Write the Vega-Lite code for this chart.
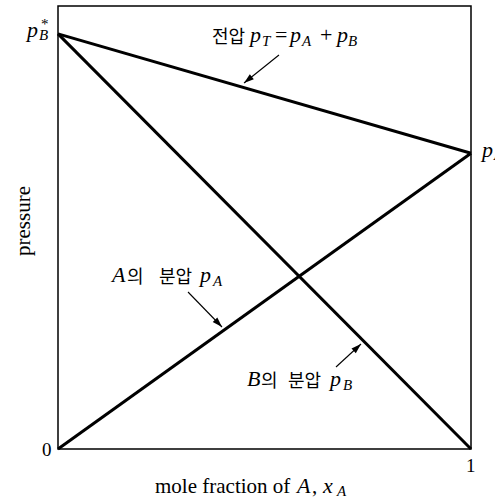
{
  "$schema": "https://vega.github.io/schema/vega-lite/v6.json",
  "width": 413,
  "height": 443,
  "autosize": {"type": "none"},
  "padding": {"left": 58, "top": 6, "right": 24, "bottom": 50},
  "background": "white",
  "config": {"view": {"stroke": "black", "strokeWidth": 1.5}, "text": {"font": "'Liberation Serif', 'Times New Roman', serif"}},
  "datasets": {
    "lines": [
      {"s": "total", "x": 0, "y": 0.937}, {"s": "total", "x": 1, "y": 0.6675},
      {"s": "pB", "x": 0, "y": 0.937}, {"s": "pB", "x": 1, "y": 0},
      {"s": "pA", "x": 0, "y": 0}, {"s": "pA", "x": 1, "y": 0.6675}
    ],
    "arrows": [
      {"id": "T", "x": 0.5351, "y": 0.8894, "x2": 0.4504, "y2": 0.8262},
      {"id": "A", "x": 0.3148, "y": 0.3544, "x2": 0.3971, "y2": 0.2754},
      {"id": "B", "x": 0.6731, "y": 0.1851, "x2": 0.7337, "y2": 0.2370}
    ],
    "mi": [
      {"x": 0.4649, "y": 0.9187, "t": "p"},
      {"x": 0.5617, "y": 0.9187, "t": "p"},
      {"x": 0.6755, "y": 0.9187, "t": "p"},
      {"x": 0.1308, "y": 0.3770, "t": "A"},
      {"x": 0.3438, "y": 0.3770, "t": "p"},
      {"x": 0.4576, "y": 0.1422, "t": "B"},
      {"x": 0.6586, "y": 0.1422, "t": "p"},
      {"x": -0.0751, "y": 0.930, "t": "p"},
      {"x": 1.0266, "y": 0.6591, "t": "p"},
      {"x": 0.5787, "y": -0.0993, "t": "A"},
      {"x": 0.6416, "y": -0.0993, "t": "x"}
    ],
    "sub": [
      {"x": 0.4939, "y": 0.9097, "t": "T"},
      {"x": 0.5908, "y": 0.9097, "t": "A"},
      {"x": 0.7022, "y": 0.9097, "t": "B"},
      {"x": 0.3753, "y": 0.3679, "t": "A"},
      {"x": 0.6901, "y": 0.1332, "t": "B"},
      {"x": -0.046, "y": 0.9233, "t": "B"},
      {"x": 1.0557, "y": 0.6524, "t": "A"},
      {"x": 0.6755, "y": -0.1061, "t": "A"}
    ],
    "sup": [
      {"x": -0.0412, "y": 0.948, "t": "*"},
      {"x": 1.058, "y": 0.678, "t": "*"}
    ],
    "rom": [
      {"x": 0.5254, "y": 0.9187, "t": "="},
      {"x": 0.6344, "y": 0.9187, "t": "+"}
    ],
    "kor": [
      {"x": 0.3729, "y": 0.9165, "t": "전압"},
      {"x": 0.1671, "y": 0.3747, "t": "의"},
      {"x": 0.2446, "y": 0.3747, "t": "분압"},
      {"x": 0.4915, "y": 0.1400, "t": "의"},
      {"x": 0.5569, "y": 0.1400, "t": "분압"}
    ],
    "tick": [
      {"x": -0.0387, "y": -0.0158, "t": "0"},
      {"x": 0.9879, "y": -0.0519, "t": "1"}
    ],
    "title": [
      {"x": 0.2349, "y": -0.0993, "t": "mole fraction of"},
      {"x": 0.615, "y": -0.0993, "t": ","}
    ],
    "ytitle": [
      {"x": -0.0678, "y": 0.5147, "t": "pressure"}
    ]
  },
  "encoding": {
    "x": {"field": "x", "type": "quantitative", "scale": {"domain": [0, 1], "nice": false, "zero": false}, "axis": null},
    "y": {"field": "y", "type": "quantitative", "scale": {"domain": [0, 1], "nice": false, "zero": false}, "axis": null}
  },
  "layer": [
    {
      "data": {"name": "lines"},
      "mark": {"type": "line", "color": "black", "strokeWidth": 3, "strokeCap": "butt"},
      "encoding": {"detail": {"field": "s"}}
    },
    {
      "data": {"name": "arrows"},
      "mark": {"type": "rule", "color": "black", "strokeWidth": 1.1},
      "encoding": {"x2": {"field": "x2"}, "y2": {"field": "y2"}}
    },
    {
      "data": {"name": "arrows"},
      "transform": [{"filter": "datum.id === 'T'"}],
      "mark": {"type": "point", "shape": "M0,0L-0.32,1L0.32,1Z", "filled": true, "color": "black", "opacity": 1, "size": 400, "angle": 231.3},
      "encoding": {"x": {"field": "x2", "type": "quantitative"}, "y": {"field": "y2", "type": "quantitative"}}
    },
    {
      "data": {"name": "arrows"},
      "transform": [{"filter": "datum.id === 'A'"}],
      "mark": {"type": "point", "shape": "M0,0L-0.32,1L0.32,1Z", "filled": true, "color": "black", "opacity": 1, "size": 400, "angle": 135.8},
      "encoding": {"x": {"field": "x2", "type": "quantitative"}, "y": {"field": "y2", "type": "quantitative"}}
    },
    {
      "data": {"name": "arrows"},
      "transform": [{"filter": "datum.id === 'B'"}],
      "mark": {"type": "point", "shape": "M0,0L-0.32,1L0.32,1Z", "filled": true, "color": "black", "opacity": 1, "size": 400, "angle": 47.4},
      "encoding": {"x": {"field": "x2", "type": "quantitative"}, "y": {"field": "y2", "type": "quantitative"}}
    },
    {
      "data": {"name": "mi"},
      "mark": {"type": "text", "fontStyle": "italic", "fontSize": 22, "align": "left", "baseline": "alphabetic", "color": "black"},
      "encoding": {"text": {"field": "t"}}
    },
    {
      "data": {"name": "sub"},
      "mark": {"type": "text", "fontStyle": "italic", "fontSize": 15, "align": "left", "baseline": "alphabetic", "color": "black"},
      "encoding": {"text": {"field": "t"}}
    },
    {
      "data": {"name": "sup"},
      "mark": {"type": "text", "fontSize": 15, "align": "left", "baseline": "alphabetic", "color": "black"},
      "encoding": {"text": {"field": "t"}}
    },
    {
      "data": {"name": "rom"},
      "mark": {"type": "text", "fontSize": 22, "align": "left", "baseline": "alphabetic", "color": "black"},
      "encoding": {"text": {"field": "t"}}
    },
    {
      "data": {"name": "kor"},
      "mark": {"type": "text", "font": "Noto Sans CJK KR", "fontSize": 18, "align": "left", "baseline": "alphabetic", "color": "black"},
      "encoding": {"text": {"field": "t"}}
    },
    {
      "data": {"name": "tick"},
      "mark": {"type": "text", "fontSize": 19, "align": "left", "baseline": "alphabetic", "color": "black"},
      "encoding": {"text": {"field": "t"}}
    },
    {
      "data": {"name": "title"},
      "mark": {"type": "text", "fontSize": 21, "align": "left", "baseline": "alphabetic", "color": "black"},
      "encoding": {"text": {"field": "t"}}
    },
    {
      "data": {"name": "ytitle"},
      "mark": {"type": "text", "fontSize": 21, "align": "center", "baseline": "alphabetic", "angle": 270, "color": "black"},
      "encoding": {"text": {"field": "t"}}
    }
  ]
}
